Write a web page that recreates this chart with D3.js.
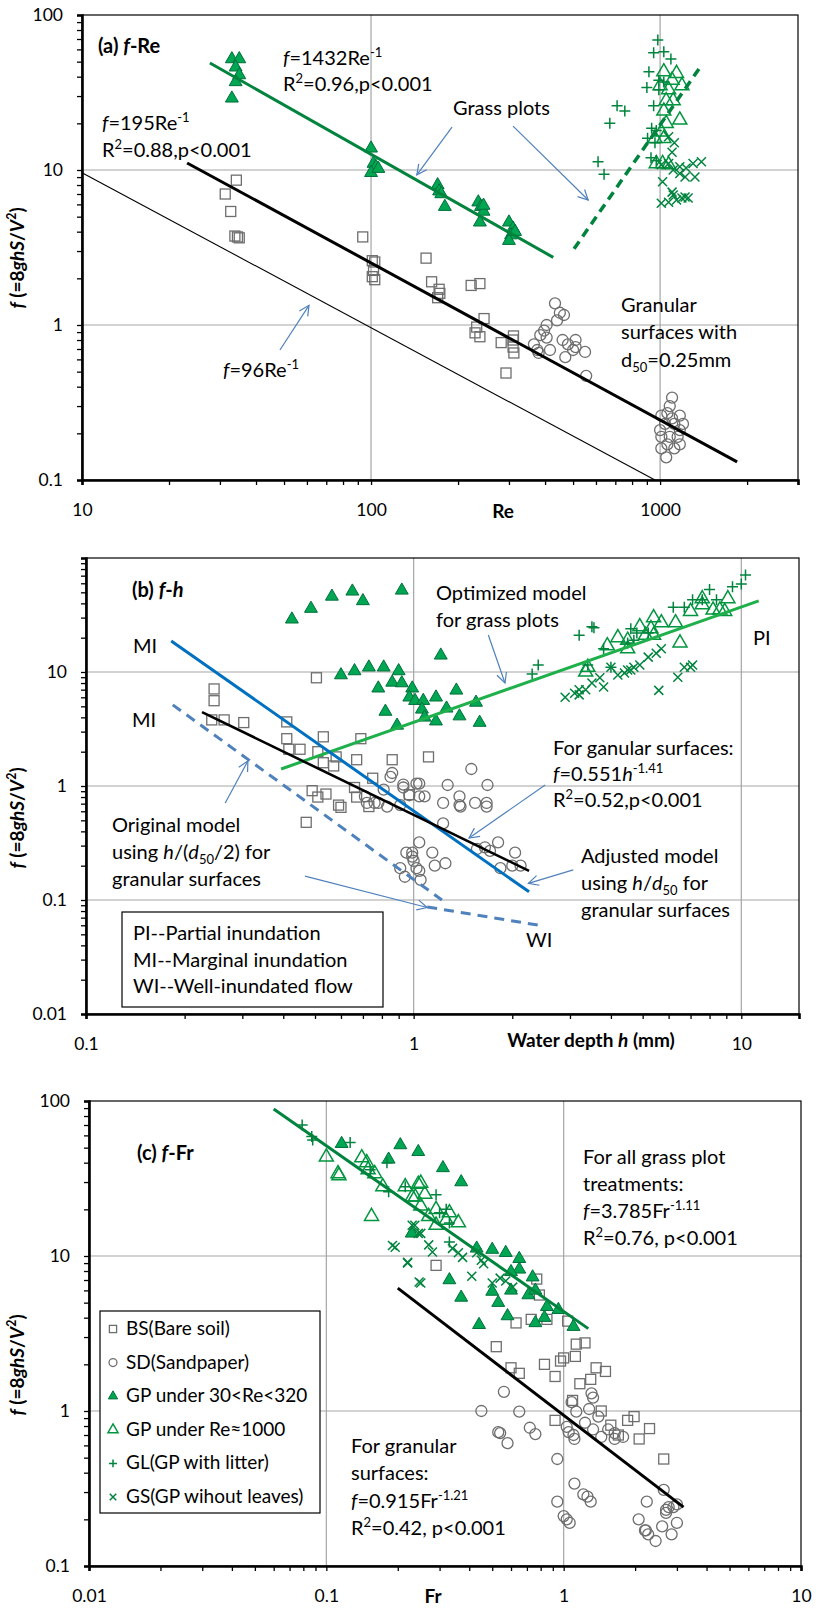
<!DOCTYPE html>
<html>
<head>
<meta charset="utf-8">
<script src="https://cdn.jsdelivr.net/npm/d3@7"></script>
<style>
  body { margin: 0; background: #fff; }
  svg { font-family: Lato, "Open Sans", sans-serif; }
</style>
</head>
<body>
<svg id="chart" width="816" height="1610"></svg>
<script>
// ---------- data: [x, f] ----------
// (a) f vs Re
const aBS = [[31.3,7.0],[34.2,8.6],[32.7,5.4],[33.8,3.75],[35,3.65],[34.5,3.7],
  [93.6,3.7],[101,2.6],[103,2.55],[102,2.25],[101,2.05],[103,1.96],
  [155,2.7],[162,1.9],[172,1.7],[173,1.6],[170,1.5],
  [222,1.8],[238,1.85],[229,0.89],[238,0.84],[232,0.97],[246,1.1],
  [282,0.77],[293,0.49],[310,0.8],[310,0.72],[312,0.66],[311,0.85]];
const aSD = [[433,1.38],[450,1.2],[465,1.16],[440,1.07],[405,1.0],[397,0.92],[385,0.86],[405,0.83],
  [366,0.75],[376,0.69],[380,0.66],[416,0.69],[460,0.8],[480,0.75],[510,0.8],[500,0.69],[470,0.62],
  [550,0.67],[555,0.47],[510,0.72],
  [1100,0.34],[1080,0.3],[1060,0.27],[1170,0.26],[1010,0.26],[1040,0.23],[1120,0.23],[1200,0.23],
  [1010,0.19],[1080,0.19],[1150,0.19],[1010,0.16],[1060,0.17],[1170,0.17],[1050,0.14],[1120,0.16],
  [1000,0.21],[1170,0.21],[1100,0.25]];
const aGP = [[33,52],[35,52],[34,46],[35,41],[34,37],[33,29],
  [100,13.8],[102,11],[104,10.5],[100,9.6],[106,10.2],
  [170,8],[172,7.3],[175,7],[180,5.8],
  [235,6.2],[240,5.8],[245,5.4],[238,4.6],[245,5.9],
  [300,4.6],[310,4.2],[305,3.8],[300,3.5],[315,4.0]];
const aGP1000 = [[1030,43],[1140,42],[1190,35],[1000,35],[1070,33],[1050,28],[1110,28],[1030,24],
  [1170,21],[1050,20],[1010,17.6],[1030,16],[960,16],[1020,11],[1070,10.8],[970,11],[1100,38]];
const aGL = [[982,69],[950,57],[1030,58],[1090,52],[915,43],[900,34],[950,26],[710,26],[755,24],
  [670,20],[610,11.3],[640,9.4],[935,18.6],[905,16],[930,12],[990,38],[990,33],[1030,37],
  [970,18],[960,15],[970,11.5]];
const aGS = [[1070,16.4],[1120,15],[1100,13],[1010,10.8],[1070,11],[1110,10],[1170,10.5],[1230,10.3],
  [1300,11],[1390,11.3],[1320,9],[1220,9],[1170,9.5],[1020,8.4],[1100,7.2],[1110,6.9],[1190,6.6],
  [1250,6.6],[1010,6.1],[1070,6.2],[1140,6.4],[1220,6.7]];
const aLineGP = [[27.7,49],[427,2.73]];
const aLineGPdash = [[504,3.1],[1386,47]];
const aLineGran = [[23.1,11.1],[1847,0.131]];
const aLine96 = [[10,9.6],[960,0.1]];

// (b) f vs h (mm)
const bBS = [[0.246,7.1],[0.246,5.6],[0.242,3.8],[0.264,3.8],[0.303,3.6],[0.41,3.65],[0.41,2.6],
  [0.416,2.1],[0.45,2.1],[0.505,8.9],[0.53,2.7],[0.51,2.0],[0.53,1.6],[0.57,1.5],[0.58,1.8],[0.69,2.6],
  [0.67,1.7],[0.86,1.7],[0.75,1.17],[0.49,0.91],[0.51,0.8],[0.54,0.85],[0.59,0.68],[0.66,0.97],
  [0.67,0.8],[0.47,0.48],[0.6,0.65],[0.73,0.66],[1.11,1.8],[0.97,0.84]];
const bSD = [[0.86,1.3],[0.85,1.2],[0.93,1.03],[1.02,1.05],[0.97,0.83],[0.81,0.93],[0.71,0.81],
  [0.72,0.71],[0.78,0.71],[1.5,1.41],[1.04,1.05],[1.27,1.02],[1.68,1.02],[1.38,0.81],[1.23,0.71],
  [1.38,0.68],[1.54,0.71],[1.67,0.71],[0.93,0.97],[1.04,0.81],[1.08,0.81],[0.76,0.71],[0.83,0.66],
  [0.91,0.68],[1.39,0.66],[1.67,0.66],[1.23,0.47],[1.04,0.32],[1.14,0.26],[0.95,0.26],[0.99,0.24],
  [1.0,0.22],[0.99,0.26],[1.02,0.19],[0.91,0.19],[0.94,0.16],[1.05,0.15],[1.04,0.18],[1.25,0.21],
  [1.16,0.2],[1.65,0.29],[1.71,0.27],[1.81,0.32],[1.84,0.19],[2.04,0.26],[2.0,0.2],[2.12,0.2],[1.56,0.28]];
const bGP = [[0.425,29],[0.486,36],[0.563,46],[0.65,51],[0.70,42],[0.92,52],[0.6,9.4],[0.66,10.2],
  [0.73,11],[0.81,11],[0.90,10.2],[0.78,7.2],[0.86,8.1],[0.92,8],[0.82,4.5],[0.89,3.4],[0.99,7.2],
  [0.97,6],[1.01,5.6],[1.07,5.6],[1.06,4.7],[1.08,4.0],[1.17,6.0],[1.17,3.7],[1.26,4.8],[1.35,6.9],
  [1.21,14],[1.38,4.1],[1.55,5.4],[1.59,3.6]];
const bGP1000 = [[9.1,44],[7.6,44],[7.6,39],[8.2,35],[8.6,35],[8.9,34],[7.0,34],[6.3,27],[6.5,18],
  [5.7,27],[5.4,30],[5.3,24],[4.9,25],[5.1,21],[5.4,21],[4.2,20],[4.5,19],[4.5,16],[3.9,17],[3.4,11],[3.35,10]];
const bGL = [[10.3,71],[10.0,59],[9.4,56],[8.0,53],[7.1,43],[6.7,37],[6.2,37],[8.4,43],[7.6,43],
  [4.6,24],[4.8,22],[5.2,22],[3.5,25],[3.2,21],[3.55,24.5],[3.8,16],[4.5,18],[4.0,11],[2.4,11.5],
  [2.3,9.6],[3.4,11.5],[4.7,19]];
const bGS = [[2.9,6],[3.1,6.5],[3.2,7],[3.35,7],[3.2,6.3],[3.5,8],[3.7,8.9],[3.8,7.4],[4.0,11],
  [4.2,9.4],[4.5,10.4],[4.7,11],[4.9,11.5],[5.2,13.5],[5.5,14.6],[5.7,16],[4.4,9.8],[4.6,10.4],
  [5.6,6.9],[6.4,9],[6.7,11],[7.1,11.5],[7.0,11]];
const bLineGP = [[0.394,1.41],[11.3,42]];
const bLineAdj = [[0.182,18.7],[2.25,0.118]];
const bLineGran = [[0.226,4.45],[2.25,0.18]];
const bLineOrig = [[0.184,5.15],[1.22,0.1]];
const bLineWI = [[1.1,0.087],[2.5,0.059]];

// (c) f vs Fr
const cBS = [[0.29,8.7],[0.77,7.1],[0.79,5.6],[0.63,3.7],[0.73,3.9],[0.85,3.9],[1.04,3.8],[0.52,2.6],
  [1.13,2.7],[1.23,2.75],[1.0,2.2],[1.12,2.25],[0.6,1.9],[0.65,1.75],[0.83,2.0],[0.92,1.67],[0.97,2.1],
  [1.17,1.5],[1.3,1.6],[1.37,1.9],[1.5,1.8],[0.92,0.87],[1.09,1.17],[1.44,1.0],[1.58,0.81],[1.86,0.87],
  [1.98,0.92],[2.08,0.66],[2.3,0.77],[2.64,0.49],[1.7,0.7]];
const cSD = [[0.45,1.0],[0.56,1.33],[0.65,0.99],[0.53,0.73],[0.54,0.72],[0.58,0.62],[0.72,0.78],
  [0.76,0.71],[0.94,0.49],[1.03,0.79],[1.05,0.73],[1.1,0.7],[1.11,0.66],[1.08,1.14],[1.13,0.99],
  [1.28,1.03],[1.31,1.3],[1.33,1.22],[1.4,0.92],[1.23,0.84],[1.33,0.76],[1.44,0.68],[1.64,0.66],
  [1.78,0.68],[1.64,0.72],[1.54,0.76],[1.11,0.34],[1.21,0.29],[1.26,0.28],[1.3,0.26],[0.94,0.26],
  [1.0,0.21],[1.03,0.2],[1.06,0.19],[2.07,0.2],[2.2,0.17],[2.22,0.17],[2.27,0.16],[2.44,0.145],
  [2.64,0.31],[2.24,0.26],[2.6,0.18],[2.7,0.23],[2.77,0.24],[2.9,0.24],[3.0,0.19],[2.85,0.16],
  [2.7,0.22],[3.0,0.25]];
const cGP = [[0.116,53],[0.183,42],[0.205,52],[0.229,14],[0.244,47],[0.31,37],[0.37,30],[0.43,11.2],
  [0.5,11],[0.57,10.5],[0.65,9.6],[0.65,8.2],[0.6,7.9],[0.74,7.3],[0.33,7],[0.37,5.4],[0.5,5.9],
  [0.6,6.0],[0.53,5.0],[0.71,5.6],[0.76,6.0],[0.85,4.7],[0.95,4.5],[0.83,4.0],[0.76,3.7],[0.58,4.1],
  [0.44,3.6],[1.1,3.5]];
const cGP1000 = [[0.1,43.5],[0.112,34],[0.113,33],[0.141,43],[0.148,40],[0.16,34],[0.15,36],[0.173,28],
  [0.155,18],[0.215,28],[0.237,24],[0.244,29],[0.25,29.5],[0.23,24],[0.26,25],[0.29,20],[0.25,21],
  [0.27,18],[0.33,19],[0.36,16.4],[0.29,15.8],[0.32,17]];
const cGL = [[0.0791,70],[0.0868,59],[0.0876,56],[0.126,54],[0.18,40],[0.183,26],[0.215,28],[0.153,36],
  [0.29,24.8],[0.32,20],[0.3,19],[0.33,16.3],[0.33,12.3]];
const cGS = [[0.195,11.4],[0.19,11.7],[0.22,9],[0.246,6.8],[0.236,15.8],[0.244,14],[0.23,15.8],[0.25,14],
  [0.27,11.8],[0.28,10.6],[0.22,9.1],[0.25,6.7],[0.34,11.2],[0.36,10.5],[0.375,9.8],[0.43,10.5],
  [0.45,9.4],[0.41,7.4],[0.46,8.9],[0.5,6.7],[0.54,7.2],[0.57,6.9],[0.61,6.3]];
const cLineGP = [[0.06,88.8],[1.27,3.4]];
const cLineGran = [[0.2,6.2],[3.2,0.24]];

// tick labels
const aXLabels = [10, 100, 1000];
const aYLabels = [0.1, 1, 10, 100];
const bXLabels = [0.1, 1, 10];
const bYLabels = [0.01, 0.1, 1, 10];
const cXLabels = [0.01, 0.1, 1, 10];
const cYLabels = [0.1, 1, 10, 100];

const legendNames = ["BS(Bare soil)", "SD(Sandpaper)", "GP under 30<Re<320",
  "GP under Re\u22481000", "GL(GP with litter)", "GS(GP wihout leaves)"];
const kinds = ["square", "circle", "tri", "triOpen", "plus", "cross"];

// ---------- drawing ----------
const GREEN = "#00843d", GREEN2 = "#1fb04b", BLUE = "#0070c0", BLUE2 = "#4f81bd", GREY = "#6e6e6e";
const FS = 20;      // annotation text
const svg = d3.select("#chart");
svg.append("rect").attr("width", 816).attr("height", 1610).attr("fill", "#fff");

svg.append("defs").append("marker")
  .attr("id", "arr").attr("viewBox", "0 0 12 12").attr("refX", 11).attr("refY", 6)
  .attr("markerWidth", 12).attr("markerHeight", 12).attr("markerUnits", "userSpaceOnUse")
  .attr("orient", "auto")
  .append("path").attr("d", "M1,1 L11,6 L1,11").attr("fill", "none")
  .attr("stroke", BLUE2).attr("stroke-width", 1.2);

function logTicks(lo, hi) {
  const out = [];
  for (let e = Math.floor(Math.log10(lo)); e <= Math.ceil(Math.log10(hi)); e++) {
    for (let m = 1; m < 10; m++) {
      const v = +(m * Math.pow(10, e)).toPrecision(3);
      if (v >= lo * 0.999 && v <= hi * 1.001) out.push(v);
    }
  }
  return out;
}
const isDecade = v => Math.abs(Math.log10(v) - Math.round(Math.log10(v))) < 1e-9;

// text with italic / sup / sub parts
function rich(sel, x, y, parts, size, weight) {
  const t = sel.append("text").attr("x", x).attr("y", y).attr("font-size", size)
    .attr("font-weight", weight || "normal").attr("fill", "#000");
  let shift = 0;
  parts.forEach(([s, st]) => {
    const f = (st || "").split(" ");
    const target = f.includes("sup") ? -0.4 * size : f.includes("sub") ? 0.25 * size : 0;
    const ts = t.append("tspan").text(s);
    if (target !== shift) ts.attr("dy", target - shift);
    shift = target;
    if (f.includes("sup") || f.includes("sub")) ts.attr("font-size", size * 0.65);
    if (f.includes("i")) ts.attr("font-style", "italic");
  });
  return t;
}

function marker(g, kind, px, py, s) {
  s = s || 1;
  if (kind === "square") {
    g.append("rect").attr("x", px - 5 * s).attr("y", py - 5 * s).attr("width", 10 * s).attr("height", 10 * s)
      .attr("fill", "none").attr("stroke", GREY).attr("stroke-width", 1.3);
  } else if (kind === "circle") {
    g.append("circle").attr("cx", px).attr("cy", py).attr("r", 5.5 * s)
      .attr("fill", "none").attr("stroke", GREY).attr("stroke-width", 1.3);
  } else if (kind === "tri" || kind === "triOpen") {
    const area = (kind === "tri" ? 72 : 85) * s * s;
    g.append("path").attr("d", d3.symbol(d3.symbolTriangle, area)())
      .attr("transform", `translate(${px},${py})`)
      .attr("fill", kind === "tri" ? "#00a651" : "none")
      .attr("stroke", kind === "tri" ? "#00703c" : "#00953f")
      .attr("stroke-width", kind === "tri" ? 1 : 1.5);
  } else if (kind === "plus") {
    const r = 5.5 * s;
    g.append("path").attr("d", `M${px - r},${py}H${px + r}M${px},${py - r}V${py + r}`)
      .attr("stroke", GREEN).attr("stroke-width", 1.5);
  } else {
    const r = 4.5 * s;
    g.append("path").attr("d", `M${px - r},${py - r}L${px + r},${py + r}M${px - r},${py + r}L${px + r},${py - r}`)
      .attr("stroke", GREEN).attr("stroke-width", 1.5);
  }
}

function drawPanel(p) {
  const g = svg.append("g");
  const x = d3.scaleLog().domain(p.xDomain).range(p.xRange);
  const y = d3.scaleLog().domain(p.yDomain).range(p.yRange);
  const [x0, x1] = p.xRange, [y0, y1] = p.yRange;

  // grid lines at inner decades
  g.append("g").selectAll("line").data(logTicks(...p.xDomain).filter(v => isDecade(v) && x(v) > x0 + 2 && x(v) < x1 - 2))
    .join("line").attr("x1", d => x(d)).attr("x2", d => x(d)).attr("y1", y0).attr("y2", y1)
    .attr("stroke", "#a5a5a5").attr("stroke-width", 1.2);
  g.append("g").selectAll("line").data(logTicks(...p.yDomain).filter(v => isDecade(v) && y(v) < y0 - 2 && y(v) > y1 + 2))
    .join("line").attr("y1", d => y(d)).attr("y2", d => y(d)).attr("x1", x0).attr("x2", x1)
    .attr("stroke", "#a5a5a5").attr("stroke-width", 1.2);

  // frame
  g.append("rect").attr("x", x0).attr("y", y1).attr("width", x1 - x0).attr("height", y0 - y1)
    .attr("fill", "none").attr("stroke", "#000").attr("stroke-width", 1.2);

  const fmt = d3.format("~g");
  const yAxis = d3.axisLeft(y).tickValues(logTicks(...p.yDomain)).tickSize(5).tickPadding(14)
    .tickFormat(d => p.yLabels.includes(d) ? fmt(d) : "");
  const xAxis = d3.axisBottom(x).tickValues(logTicks(...p.xDomain)).tickSize(5).tickPadding(19)
    .tickFormat(d => p.xLabels.includes(d) ? fmt(d) : "");
  const ya = g.append("g").attr("transform", `translate(${x0},0)`).call(yAxis);
  const xa = g.append("g").attr("transform", `translate(0,${y0})`).call(xAxis);
  [ya, xa].forEach(a => {
    a.select(".domain").attr("stroke-width", 2.6);
    a.selectAll(".tick line").attr("stroke-width", 1.3);
    a.selectAll("text").attr("font-size", 17.5).attr("font-family", "Lato, sans-serif").attr("fill", "#000");
  });

  // points
  p.series.forEach((data, i) => {
    const sg = g.append("g");
    data.forEach(d => marker(sg, kinds[i], x(d[0]), y(d[1])));
  });

  // fitted / model lines
  const line = d3.line().x(d => x(d[0])).y(d => y(d[1]));
  p.lines.forEach(l => {
    g.append("path").attr("d", line(l.data)).attr("fill", "none")
      .attr("stroke", l.color).attr("stroke-width", l.w)
      .attr("stroke-dasharray", l.dash || null);
  });

  // arrows (in data units)
  (p.arrows || []).forEach(a => {
    g.append("line").attr("x1", x(a[0][0])).attr("y1", y(a[0][1]))
      .attr("x2", x(a[1][0])).attr("y2", y(a[1][1]))
      .attr("stroke", BLUE2).attr("stroke-width", 1.2).attr("marker-end", "url(#arr)");
  });

  // axis title + y title
  rich(g, p.xTitleX, p.xTitleY, p.xTitle, 19, "bold").attr("text-anchor", "middle");
  const yt = g.append("g").attr("transform", `translate(24,${p.yTitleY}) rotate(-90)`);
  rich(yt, 0, 0, [["f", "i"], [" (=8"], ["ghS", "i"], ["/"], ["V", "i"], ["2", "sup"], [")"]], 19, "bold")
    .attr("text-anchor", "middle");
  return g;
}

// ---- panel (a)
const ga = drawPanel({
  xDomain: [10, 3000], yDomain: [0.1, 100], xRange: [82, 798], yRange: [480, 15],
  xLabels: aXLabels, yLabels: aYLabels,
  series: [aBS, aSD, aGP, aGP1000, aGL, aGS],
  lines: [
    { data: aLine96, color: "#000", w: 1.1 },
    { data: aLineGran, color: "#000", w: 3 },
    { data: aLineGP, color: GREEN, w: 3 },
    { data: aLineGPdash, color: GREEN, w: 3.5, dash: "9,6" }
  ],
  arrows: [[[190.6, 18.9], [144, 9.3]], [[310, 19.2], [564, 6.4]], [[48.4, 0.69], [61, 1.34]]],
  xTitle: [["Re"]], xTitleX: 503, xTitleY: 518, yTitleY: 258
});
rich(ga, 98, 53, [["(a) "], ["f", "i"], ["-Re"]], 20, "bold");
rich(ga, 283, 65, [["f", "i"], ["=1432Re"], ["-1", "sup"]], FS);
rich(ga, 283, 91, [["R"], ["2", "sup"], ["=0.96,p<0.001"]], FS);
rich(ga, 102, 130, [["f", "i"], ["=195Re"], ["-1", "sup"]], FS);
rich(ga, 102, 157, [["R"], ["2", "sup"], ["=0.88,p<0.001"]], FS);
rich(ga, 453, 115, [["Grass plots"]], FS);
rich(ga, 621, 312, [["Granular"]], FS);
rich(ga, 621, 339, [["surfaces with"]], FS);
rich(ga, 621, 367, [["d"], ["50", "sub"], ["=0.25mm"]], FS);
rich(ga, 223, 377, [["f", "i"], ["=96Re"], ["-1", "sup"]], FS);

// ---- panel (b)
const gb = drawPanel({
  xDomain: [0.1, 15], yDomain: [0.01, 100], xRange: [86, 799], yRange: [1014, 558],
  xLabels: bXLabels, yLabels: bYLabels,
  series: [bBS, bSD, bGP, bGP1000, bGL, bGS],
  lines: [
    { data: bLineGP, color: GREEN2, w: 3 },
    { data: bLineAdj, color: BLUE, w: 3 },
    { data: bLineGran, color: "#000", w: 2.6 },
    { data: bLineOrig, color: BLUE2, w: 3, dash: "10,7" },
    { data: bLineWI, color: BLUE2, w: 3, dash: "10,7" }
  ],
  arrows: [[[1.69, 21.1], [1.90, 8.0]], [[2.52, 1.02], [1.476, 0.35]], [[3.07, 0.184], [2.24, 0.14]],
    [[0.266, 0.71], [0.312, 1.66]], [[0.466, 0.162], [1.1, 0.086]]],
  xTitle: [["Water depth "], ["h", "i"], [" (mm)"]], xTitleX: 591, xTitleY: 1047, yTitleY: 818
});
rich(gb, 132, 597, [["(b) "], ["f", "i"], ["-"], ["h", "i"]], 20, "bold");
rich(gb, 133, 653, [["MI"]], FS);
rich(gb, 132, 727, [["MI"]], FS);
rich(gb, 753, 645, [["PI"]], FS);
rich(gb, 436, 600, [["Optimized model"]], FS);
rich(gb, 436, 627, [["for grass plots"]], FS);
rich(gb, 553, 755, [["For ganular surfaces:"]], FS);
rich(gb, 553, 781, [["f", "i"], ["=0.551"], ["h", "i"], ["-1.41", "sup"]], FS);
rich(gb, 553, 807, [["R"], ["2", "sup"], ["=0.52,p<0.001"]], FS);
rich(gb, 112, 832, [["Original model"]], FS);
rich(gb, 112, 859, [["using  "], ["h", "i"], ["/("], ["d", "i"], ["50", "sub"], ["/2) for"]], FS);
rich(gb, 112, 886, [["granular surfaces"]], FS);
rich(gb, 581, 863, [["Adjusted  model"]], FS);
rich(gb, 581, 890, [["using "], ["h", "i"], ["/"], ["d", "i"], ["50", "sub"], [" for"]], FS);
rich(gb, 581, 917, [["granular surfaces"]], FS);
rich(gb, 526, 947, [["WI"]], FS);
gb.append("rect").attr("x", 122).attr("y", 912).attr("width", 261).attr("height", 95)
  .attr("fill", "#fff").attr("stroke", "#000").attr("stroke-width", 1.2);
["PI--Partial inundation", "MI--Marginal inundation", "WI--Well-inundated flow"]
  .forEach((s, i) => rich(gb, 133, 940 + i * 26.5, [[s]], FS));

// ---- panel (c)
const gc = drawPanel({
  xDomain: [0.01, 10], yDomain: [0.1, 100], xRange: [89, 801], yRange: [1566, 1101],
  xLabels: cXLabels, yLabels: cYLabels,
  series: [cBS, cSD, cGP, cGP1000, cGL, cGS],
  lines: [
    { data: cLineGP, color: GREEN, w: 3 },
    { data: cLineGran, color: "#000", w: 3 }
  ],
  xTitle: [["Fr"]], xTitleX: 433, xTitleY: 1603, yTitleY: 1365
});
rich(gc, 137, 1160, [["(c) "], ["f", "i"], ["-Fr"]], 20, "bold");
rich(gc, 583, 1164, [["For all grass plot"]], FS);
rich(gc, 583, 1191, [["treatments:"]], FS);
rich(gc, 583, 1218, [["f", "i"], ["=3.785Fr"], ["-1.11", "sup"]], FS);
rich(gc, 583, 1245, [["R"], ["2", "sup"], ["=0.76, p<0.001"]], FS);
rich(gc, 351, 1453, [["For granular"]], FS);
rich(gc, 351, 1480, [["surfaces:"]], FS);
rich(gc, 351, 1508, [["f", "i"], ["=0.915Fr"], ["-1.21", "sup"]], FS);
rich(gc, 351, 1535, [["R"], ["2", "sup"], ["=0.42, p<0.001"]], FS);

// legend
const lg = gc.append("g");
lg.append("rect").attr("x", 100).attr("y", 1311).attr("width", 220).attr("height", 202)
  .attr("fill", "#fff").attr("stroke", "#000").attr("stroke-width", 1.2);
legendNames.forEach((name, i) => {
  const by = 1335 + i * 33.6;
  marker(lg, kinds[i], 113, by - 6, 0.72);
  rich(lg, 126, by, [[name]], 19);
});
</script>
</body>
</html>
